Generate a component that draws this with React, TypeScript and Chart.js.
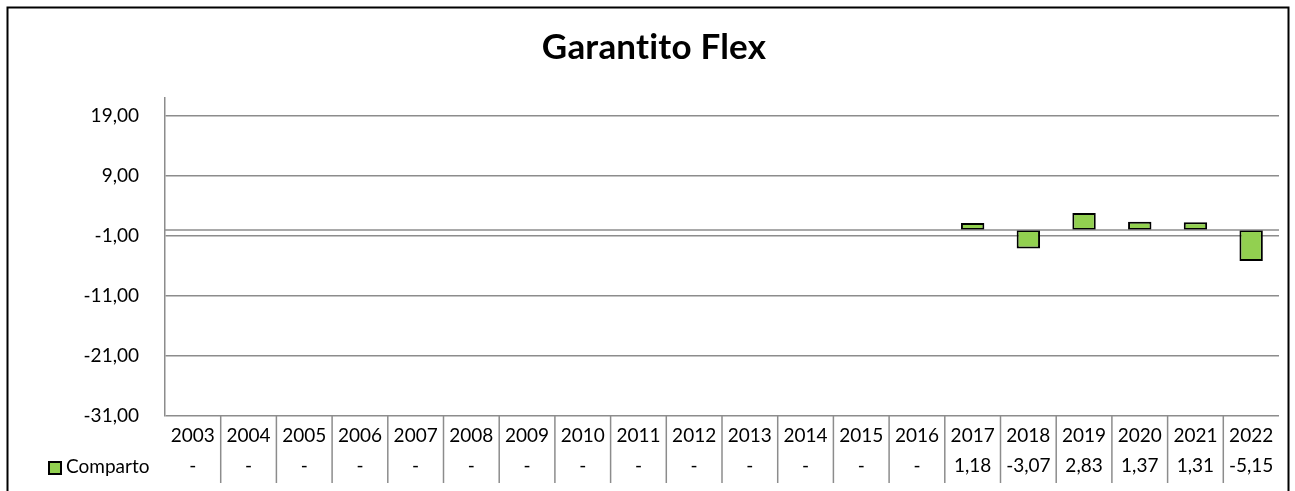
import React, { useEffect, useRef } from 'react';
import { Chart, registerables } from 'chart.js';

Chart.register(...registerables);

const TITLE = 'Garantito Flex';
const SERIES_NAME = 'Comparto';
const YEARS = [
  '2003', '2004', '2005', '2006', '2007', '2008', '2009', '2010', '2011', '2012',
  '2013', '2014', '2015', '2016', '2017', '2018', '2019', '2020', '2021', '2022',
];
const VALUES: (number | null)[] = [
  null, null, null, null, null, null, null, null, null, null,
  null, null, null, null, 1.18, -3.07, 2.83, 1.37, 1.31, -5.15,
];
const Y_TICKS = [19, 9, -1, -11, -21, -31];
const Y_MIN = -31;
const Y_MAX = 22;

const FONT = 'Lato, "Open Sans", sans-serif';
const GRID = '#8c8c8c';
const BAR_FILL = '#92D050';
const TEXT_SIZE = 19;

const fmt = (v: number) => v.toFixed(2).replace('.', ',');

const decorPlugin = {
  id: 'decor',
  beforeDraw(chart: any) {
    const { ctx, width, height } = chart;
    ctx.save();
    ctx.fillStyle = '#ffffff';
    ctx.fillRect(0, 0, width, height);
    ctx.restore();
  },
  afterDatasetsDraw(chart: any) {
    const { ctx, chartArea } = chart;
    const y = chart.scales.y;
    const py = y.getPixelForValue(0);
    ctx.save();
    ctx.strokeStyle = GRID;
    ctx.lineWidth = 1.5;
    ctx.beginPath();
    ctx.moveTo(chartArea.left, py);
    ctx.lineTo(chartArea.right, py);
    ctx.stroke();
    ctx.restore();
  },
  afterDraw(chart: any) {
    const { ctx, chartArea } = chart;
    const x = chart.scales.x;
    ctx.save();
    // outer border
    ctx.strokeStyle = '#000000';
    ctx.lineWidth = 2;
    ctx.strokeRect(7.5, 7.5, 1281, 500);
    // title
    ctx.fillStyle = '#000000';
    ctx.font = `bold 35px ${FONT}`;
    ctx.textAlign = 'center';
    ctx.textBaseline = 'alphabetic';
    try {
      (ctx as any).letterSpacing = '0.2px';
    } catch (e) {
      /* ignore */
    }
    ctx.fillText(TITLE, 654, 59);
    try {
      (ctx as any).letterSpacing = '0px';
    } catch (e) {
      /* ignore */
    }
    // data table
    ctx.font = `${TEXT_SIZE}px ${FONT}`;
    ctx.fillStyle = '#000000';
    YEARS.forEach((yr, i) => {
      const px = x.getPixelForValue(i);
      ctx.fillText(yr, px, 442);
      const v = VALUES[i];
      ctx.fillText(v == null ? '-' : fmt(v), px, 472);
    });
    ctx.strokeStyle = GRID;
    ctx.lineWidth = 1.5;
    for (let i = 0; i < YEARS.length - 1; i++) {
      const bx = (x.getPixelForValue(i) + x.getPixelForValue(i + 1)) / 2;
      ctx.beginPath();
      ctx.moveTo(bx, chartArea.bottom);
      ctx.lineTo(bx, 483);
      ctx.stroke();
    }
    // legend key
    ctx.fillStyle = BAR_FILL;
    ctx.fillRect(49, 462, 12, 12);
    ctx.strokeStyle = '#000000';
    ctx.lineWidth = 2;
    ctx.strokeRect(49, 462, 12, 12);
    ctx.fillStyle = '#000000';
    ctx.textAlign = 'left';
    ctx.fillText(SERIES_NAME, 66, 473);
    ctx.restore();
  },
};

export default function App() {
  const canvasRef = useRef<HTMLCanvasElement | null>(null);

  useEffect(() => {
    document.body.style.margin = '0';
    const canvas = canvasRef.current;
    if (!canvas) return;
    const chart = new Chart(canvas, {
      type: 'bar',
      data: {
        labels: YEARS,
        datasets: [
          {
            label: SERIES_NAME,
            data: VALUES as any,
            backgroundColor: BAR_FILL,
            borderColor: '#000000',
            borderWidth: 2,
            borderSkipped: false,
            barPercentage: 0.42,
            categoryPercentage: 1,
          },
        ],
      },
      options: {
        responsive: false,
        animation: false,
        devicePixelRatio: 1,
        layout: { padding: { left: 0, top: 98, right: 16, bottom: 75 } },
        plugins: {
          legend: { display: false },
          title: { display: false },
          tooltip: { enabled: false },
        },
        scales: {
          x: { display: false },
          y: {
            min: Y_MIN,
            max: Y_MAX,
            afterBuildTicks: (s: any) => {
              s.ticks = Y_TICKS.map((v) => ({ value: v }));
            },
            afterFit: (s: any) => {
              s.width = 165;
            },
            ticks: {
              callback: (v: any) => fmt(Number(v)),
              font: { family: FONT, size: TEXT_SIZE },
              color: '#000000',
              padding: 26,
            },
            grid: { color: GRID, lineWidth: 1.5, drawTicks: false },
            border: { display: true, color: GRID, width: 1.5 },
          },
        },
      },
      plugins: [decorPlugin],
    });
    return () => chart.destroy();
  }, []);

  return (
    <div style={{ width: 1295, height: 491 }}>
      <canvas ref={canvasRef} width={1295} height={491} style={{ display: 'block' }} />
    </div>
  );
}
